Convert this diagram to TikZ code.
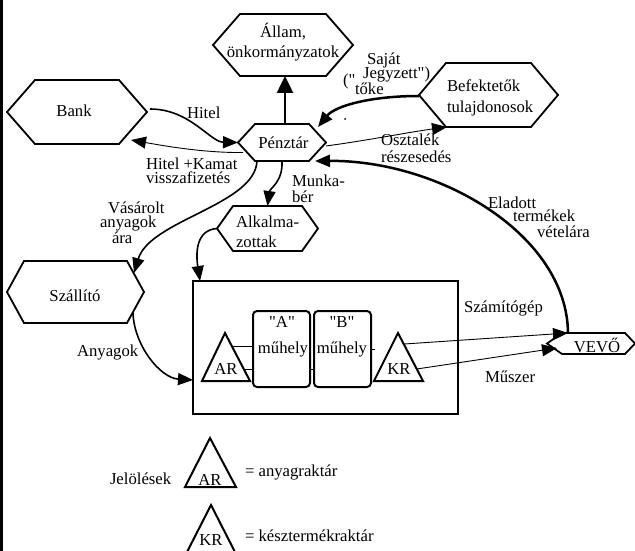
\documentclass[tikz,border=0pt]{standalone}
\usepackage{fontspec}
\setmainfont{Liberation Serif}[Ligatures=TeXOff]
\usetikzlibrary{arrows.meta,calc}
\newcommand\myfs{\fontsize{16.7}{20}\selectfont}
\tikzset{
  hexbase/.style={inner sep=0pt, outer sep=0pt, draw=none},
  hexline/.style={line width=1.8pt, line join=miter},
  tx/.style={anchor=base, inner sep=0pt, outer sep=0pt, font=\myfs},
  txl/.style={anchor=base west, inner sep=0pt, outer sep=0pt, font=\myfs},
  wthin/.style={line width=0.9pt},
  wmid/.style={line width=1.6pt},
  wthick/.style={line width=2.5pt},
  tipA/.style={-{Triangle[length=15pt,width=12pt]}},
  wbox/.style={draw, rounded corners=4pt, line width=2pt, minimum width=57pt, minimum height=76pt, inner sep=0pt, outer sep=0pt},
  tri/.style={line width=2pt, line join=miter},
}
\newcommand\mkhex[6]{%
  \node[hexbase, minimum width=#4pt, minimum height=#5pt] (#1) at (#2,#3) {};
  \draw[hexline] (#1.west) -- ([xshift=#6pt]#1.north west) -- ([xshift=-#6pt]#1.north east) -- (#1.east) -- ([xshift=-#6pt]#1.south east) -- ([xshift=#6pt]#1.south west) -- cycle;}
\begin{document}
\begin{tikzpicture}[x=1pt,y=-1pt]
\useasboundingbox (0,0) rectangle (635,551);
\fill[white] (0,0) rectangle (635,551);
% left bar
\fill[black] (0,0) rectangle (3,551);

% hexagons
\mkhex{allam}{283}{45}{140}{62}{27}
\mkhex{bank}{77}{112}{140}{64}{28}
\mkhex{penztar}{282}{142.5}{88}{37}{17}
\mkhex{bef}{488.5}{95}{139}{64}{27}
\mkhex{alk}{267.5}{228.5}{101}{45}{16}
\mkhex{szall}{75.5}{292}{137}{62}{17}
\node[hexbase, minimum width=88pt, minimum height=21pt] (vevo) at (591,343.5) {};
\draw[hexline] (vevo.west) -- ([xshift=15pt]vevo.north west) -- ([xshift=-10pt]vevo.north east) -- (vevo.east) -- ([xshift=-10pt]vevo.south east) -- ([xshift=15pt]vevo.south west) -- cycle;

% hexagon texts
\node[tx] (tallam1) at (283,38) {Állam,};
\node[tx] (tallam2) at (283,58) {önkormányzatok};
\node[tx] (tbank) at (74,117) {Bank};
\node[tx] (tpenztar) at (283.5,148) {Pénztár};
\node[txl] (tbef1) at (447,92) {Befektetők};
\node[txl] (tbef2) at (447,112) {tulajdonosok};
\node[txl] (talk1) at (236,227) {Alkalma-};
\node[txl] (talk2) at (236,247) {zottak};
\node[tx] (tszall) at (75,301) {Szállító};
\node[tx] (tvevo) at (597,352) {VEVŐ};

% big box
\node[draw, line width=2.2pt, minimum width=265pt, minimum height=133pt, inner sep=0pt, outer sep=0pt] (box) at (325.5,347.5) {};
% workshops
\node[wbox] (wa) at (281.5,349) {};
\node[wbox] (wb) at (342.5,349) {};
\node[tx] (twa1) at (282,327) {"A"};
\node[tx] (twa2) at (283,353) {műhely};
\node[tx] (twb1) at (342,327) {"B"};
\node[tx] (twb2) at (342,353) {műhely};
% triangles
\coordinate (arT) at (225,333); \coordinate (arL) at (202,381); \coordinate (arR) at (250,381);
\coordinate (krT) at (398,333); \coordinate (krL) at (374,381); \coordinate (krR) at (423,381);
\draw[tri] (arT) -- (arR) -- (arL) -- cycle;
\draw[tri] (krT) -- (krR) -- (krL) -- cycle;
\node[tx] (tar) at (226,374) {AR};
\node[tx] (tkr) at (399,374) {KR};
% inner thin connectors
\coordinate (ar1) at ($(arT)!0.27!(arR)$);
\coordinate (ar2) at ($(arT)!0.75!(arR)$);
\draw[wthin] (ar1) -- (ar1 -| wa.west);
\draw[wthin] (ar2) -- (ar2 -| wa.west);
\draw[wthin] ([yshift=-20pt]wa.east) -- ([yshift=-20pt]wb.west);
\draw[wthin] (wb.east) -- ([xshift=4pt]wb.east);
\coordinate (kr1) at ($(krT)!0.23!(krR)$);
\coordinate (kr2) at ($(krT)!0.75!(krR)$);

% connectors
\draw[wthick, -{Triangle[length=17pt,width=16pt]}] ([xshift=3pt]penztar.north) -- ([xshift=2pt]allam.south);
\draw[wmid, tipA] ([xshift=3pt,yshift=3pt]bank.east) .. controls (190,109) and (210,142) .. (penztar.west);
\draw[wthin, tipA] ([xshift=5pt,yshift=-10pt]penztar.west) .. controls (205,153) and (165,146) .. ([xshift=-16pt,yshift=-28pt]bank.east);
\draw[wthick, tipA] ([yshift=-1pt]bef.west) .. controls (370,96) and (335,106) .. ([xshift=-8pt,yshift=-3pt]penztar.north east);
\draw[wthin, tipA] ([yshift=-3.5pt]penztar.east) .. controls (370,140) and (410,132) .. ([xshift=28pt]bef.south west);
\draw[wthick, tipA] ([xshift=-23pt]vevo.north) .. controls (567,235) and (440,160) .. ([xshift=-11pt]penztar.south east);
\draw[wmid, tipA] (penztar.south) .. controls (283,182) and (270,188) .. (alk.north);
\draw[wmid, tipA] ([xshift=19pt]penztar.south west) .. controls (255,205) and (150,220) .. ([xshift=-10pt,yshift=-12pt]szall.north east);
\draw[wmid, tipA] (alk.west) .. controls (195,230) and (196,255) .. ([xshift=7pt]box.north west);
\draw[wmid, tipA] ([xshift=-11pt,yshift=10pt]szall.south east) .. controls (134,345) and (160,378) .. ([yshift=-32.5pt]box.west);
\draw[wthin, tipA] (kr1) -- ([xshift=21pt]vevo.north west);
\draw[wthin, tipA] (kr2) -- ([xshift=10pt,yshift=-4.5pt]vevo.west);

% connector labels
\node[txl] (lhitel) at (187,118) {Hitel};
\node[txl] (lhk1) at (146,169) {Hitel +Kamat};
\node[txl] (lhk2) at (146,183) {visszafizetés};
\node[txl] (lsa1) at (367,65) {Saját};
\node[txl] (lsa2) at (363,78) {Jegyzett")};
\node[txl] (lsa3) at (343,86) {("};
\node[txl] (lsa4) at (355,95) {tőke};
\fill (345,119) circle (1pt);
\node[txl] (los1) at (381,146) {Osztalék};
\node[txl] (los2) at (381,162) {részesedés};
\node[txl] (lmu1) at (292,186) {Munka-};
\node[txl] (lmu2) at (292,202) {bér};
\node[txl] (lva1) at (108,213) {Vásárolt};
\node[txl] (lva2) at (100,227) {anyagok};
\node[txl] (lva3) at (112,243) {ára};
\node[txl] (lany) at (77,356) {Anyagok};
\node[txl] (lel1) at (488,208) {Eladott};
\node[txl] (lel2) at (513,221) {termékek};
\node[txl] (lel3) at (537,237) {vételára};
\node[txl] (lszg) at (464,312) {Számítógép};
\node[txl] (lmsz) at (485,382) {Műszer};

% legend
\node[txl] (ljel) at (110,484) {Jelölések};
\coordinate (lAT) at (210,438); \coordinate (lAL) at (185,487); \coordinate (lAR) at (236,487);
\draw[tri] (lAT) -- (lAR) -- (lAL) -- cycle;
\node[tx] (tlar) at (210,485) {AR};
\node[txl] (llar) at (245,476) {= anyagraktár};
\coordinate (lKT) at (211,505); \coordinate (lKL) at (186,554); \coordinate (lKR) at (236,554);
\draw[tri] (lKT) -- (lKR) -- (lKL) -- cycle;
\node[tx] (tlkr) at (211,545) {KR};
\node[txl] (llkr) at (245,541) {= késztermékraktár};
\end{tikzpicture}
\end{document}
